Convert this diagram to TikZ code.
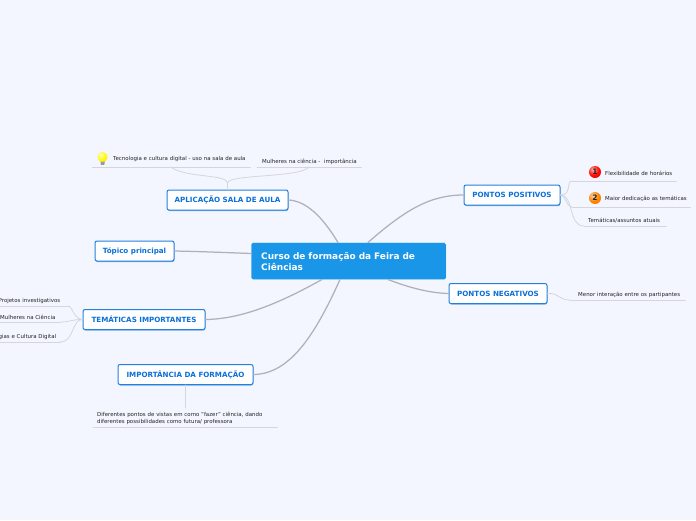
\documentclass[tikz,border=0pt]{standalone}
\usepackage{fontspec}
\setmainfont{DejaVu Sans}
\usetikzlibrary{shadows}
\definecolor{bgc}{HTML}{F3F6FF}
\definecolor{centerc}{HTML}{1A96E8}
\definecolor{edgec}{HTML}{2480DC}
\definecolor{labelc}{HTML}{0B6FD9}
\definecolor{mainl}{HTML}{B0B1B8}
\definecolor{leafl}{HTML}{D5D6DC}
\definecolor{leaft}{HTML}{222222}
\pgfdeclareradialshading{redball}{\pgfpoint{-10bp}{12bp}}{color(0bp)=(red!30!white); color(22bp)=(red!90!orange); color(50bp)=(red!80!black); color(100bp)=(red!80!black)}
\pgfdeclareradialshading{orangeball}{\pgfpoint{-10bp}{12bp}}{color(0bp)=(orange!30!white); color(22bp)=(orange!95!yellow); color(50bp)=(orange!85!red); color(100bp)=(orange!85!red)}
\pgfdeclareradialshading{yellowball}{\pgfpoint{-10bp}{12bp}}{color(0bp)=(yellow!30!white); color(25bp)=(yellow!95!orange); color(55bp)=(orange!70!yellow); color(100bp)=(orange!70!yellow)}
\tikzset{
  x=1pt,y=-1pt,
  topicbox/.style={draw=edgec,line width=1pt,fill=white,rounded corners=2pt,
    text=labelc,font=\fontsize{7.15}{8.5}\selectfont\bfseries,align=center,inner sep=0pt,
    drop shadow={shadow xshift=0.4pt,shadow yshift=-1pt,fill=edgec!60,opacity=1}},
  rootbox/.style={fill=centerc,draw=white,line width=0.4pt,rounded corners=1.5pt,text=white,
    font=\fontsize{8.95}{11}\selectfont\bfseries,align=left,inner sep=0pt,anchor=north west},
  mainline/.style={draw=mainl,line width=1.25pt,line cap=round},
  leafline/.style={draw=leafl,line width=0.8pt,line cap=round},
  leaf/.style={text=leaft,font=\fontsize{5.45}{7}\selectfont,inner xsep=0pt,inner ysep=2.5pt,
    anchor=south west,align=left,
    append after command={
      (\tikzlastnode.south west) edge[leafline] (\tikzlastnode.south east)}},
  tallleaf/.style={leaf,inner ysep=5.5pt},
  badge/.style={circle,inner sep=0pt,minimum size=12pt,draw=none,
    font=\fontsize{7.5}{7.5}\selectfont\bfseries,text=black!85},
}
\begin{document}
\begin{tikzpicture}
\useasboundingbox[fill=bgc] (0,0) rectangle (696,520);

% nodes
\node[rootbox,minimum width=195pt,minimum height=37pt,text width=175pt,inner xsep=10pt] (root) at (251,242.5)
  {Curso de formação da Feira de\\Ciências};
\node[topicbox,minimum width=121pt,minimum height=20pt] (apl) at (227.5,200) {APLICAÇÃO SALA DE AULA};
\node[topicbox,minimum width=79pt,minimum height=20pt] (top) at (134.5,251) {Tópico principal};
\node[topicbox,minimum width=122pt,minimum height=20pt] (tem) at (144,319.5) {TEMÁTICAS IMPORTANTES};
\node[topicbox,minimum width=135pt,minimum height=20pt] (imp) at (185.5,374.5) {IMPORTÂNCIA DA FORMAÇÃO};
\node[topicbox,minimum width=96pt,minimum height=20pt] (pos) at (512,195) {PONTOS POSITIVOS};
\node[topicbox,minimum width=98pt,minimum height=20pt] (neg) at (498,293.5) {PONTOS NEGATIVOS};

% leaves
\node[tallleaf,text width=158pt] (l1) at (92,167) {\hspace*{21pt}Tecnologia e cultura digital - uso na sala de aula};
\node[leaf,text width=104pt] (l2) at (257,167) {\hspace*{5pt}Mulheres na ciência -\ \ importância};
\node[tallleaf,text width=104pt] (r1) at (572,181) {\hspace*{33pt}Flexibilidade de horários};
\node[tallleaf,text width=118pt] (r2) at (572,207) {\hspace*{33pt}Maior dedicação as temáticas};
\node[leaf,text width=82pt] (r3) at (584,226) {\hspace*{4pt}Temáticas/assuntos atuais};
\node[leaf,text width=115pt] (n1) at (570,300) {\hspace*{8pt}Menor interação entre os partipantes};
\node[leaf,text width=100pt] (t1) at (-32,306) {\hspace*{30.5pt}Projetos investigativos};
\node[leaf,text width=65pt] (t2) at (-5,322) {\hspace*{5pt}Mulheres na Ciência};
\node[leaf,text width=90pt] (t3) at (-30,342) {\hspace*{8pt}Tecnologias e Cultura Digital};
\node[leaf,text width=184pt] (i1) at (93,427) {\hspace*{4pt}Diferentes pontos de vistas em como "fazer" ciência, dando\\\hspace*{4pt}diferentes possibilidades como futura/ professora};

% icons
\node[badge,shading=redball] (b1) at (595,172) {1};
\node[badge,shading=orangeball] (b2) at (595,198) {2};
\node[inner sep=0pt,minimum width=4pt,minimum height=4.5pt,fill=black!40,rounded corners=0.6pt] (bulbbase) at (102.5,162.5) {};
\node[circle,inner sep=0pt,minimum size=10pt,shading=yellowball] (bulb) at (102.5,157) {};

% main connectors
\coordinate (a1) at (338,242.5);
\coordinate (a2) at (322,279.5);
\coordinate (a3) at (340,279.5);
\coordinate (a4) at (368,242.5);
\coordinate (a5) at (388,279.5);
\coordinate (a6) at (251,253.5);
\draw[mainline] (a1) .. controls (322,216) and (306,201) .. (apl.east);
\draw[mainline] (a6) .. controls (225,252.5) and (200,251.5) .. (top.east);
\draw[mainline] (a2) .. controls (285,300) and (245,319) .. (tem.east);
\draw[mainline] (a3) .. controls (315,335) and (290,374) .. (imp.east);
\draw[mainline] (a4) .. controls (405,210) and (430,195) .. (pos.west);
\draw[mainline] (a5) .. controls (410,288) and (430,293) .. (neg.west);

% leaf connectors
\coordinate (j1) at (227.5,183);
\coordinate (u1) at (171,167);
\coordinate (u2) at (309,167);
\draw[leafline] (apl.north) -- (j1) .. controls (227,174) and (185,178) .. (u1);
\draw[leafline] (j1) .. controls (228,174) and (300,178) .. (u2);
\draw[leafline] (pos.east) .. controls (572,195) and (566,181) .. (r1.south west);
\draw[leafline] (pos.east) .. controls (566,195) and (566,207) .. (r2.south west);
\draw[leafline] (pos.east) .. controls (574,195) and (568,226) .. (r3.south west);
\draw[leafline] (neg.east) .. controls (560,293) and (558,300) .. (n1.south west);
\draw[leafline] (tem.west) .. controls (74,319) and (72,306) .. (t1.south east);
\draw[leafline] (tem.west) .. controls (74,319) and (70,322) .. (t2.south east);
\draw[leafline] (tem.west) .. controls (72,319) and (74,342) .. (t3.south east);
\coordinate (i2) at (185.5,408);
\draw[leafline] (imp.south) -- (i2);
\end{tikzpicture}
\end{document}
